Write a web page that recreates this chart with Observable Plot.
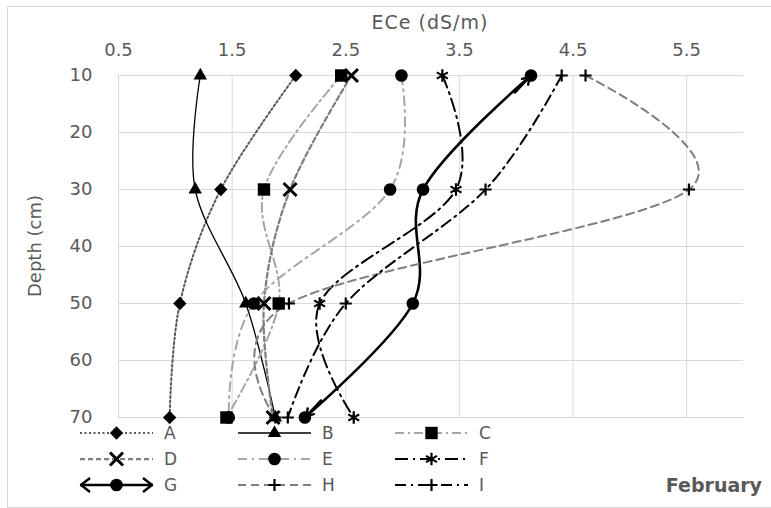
<!DOCTYPE html>
<html><head><meta charset="utf-8">
<script src="https://cdn.jsdelivr.net/npm/d3@7"></script>
<script src="https://cdn.jsdelivr.net/npm/@observablehq/plot@0.6"></script>
<style>
html,body{margin:0;padding:0;background:#fff;overflow:hidden;}
#wrap{position:relative;width:771px;height:508px;font-family:"DejaVu Sans",sans-serif;color:#595959;overflow:hidden;}
#frame{position:absolute;left:7px;top:6px;width:800px;height:502px;border:1px solid #d9d9d9;box-sizing:border-box;}
#xtitle{position:absolute;left:0;width:860px;top:11px;line-height:22px;text-align:center;font-size:19px;letter-spacing:1px;}
#ytitle{position:absolute;left:35px;top:246px;transform:translate(-50%,-50%) rotate(-90deg);white-space:nowrap;font-size:18px;line-height:20px;}
#chart{position:absolute;left:0;top:0;}
#legend{position:absolute;left:0;top:418px;}
</style>
</head><body>
<div id="wrap">
  <div id="frame"></div>
  <div id="chart"></div>
  <div id="legend"></div>
  <div id="xtitle">ECe (dS/m)</div>
  <div id="ytitle">Depth (cm)</div>
</div>
<script>
// ---- data ----
const depths = [10, 30, 50, 70];
const seriesNames = ["A", "B", "C", "D", "E", "F", "G", "H", "I"];
const A = [2.06, 1.40, 1.04, 0.95];
const B = [1.22, 1.175, 1.62, 1.88];
const C = [2.46, 1.78, 1.91, 1.45];
const D = [2.55, 2.01, 1.78, 1.86];
const E = [2.99, 2.89, 1.69, 1.47];
const F = [3.35, 3.47, 2.27, 2.57];
const G = [4.13, 3.18, 3.09, 2.14];
const H = [4.61, 5.52, 2.00, 1.88];
const I = [4.40, 3.73, 2.50, 1.99];
const xTicks = [0.5, 1.5, 2.5, 3.5, 4.5, 5.5];
const yTicks = [10, 20, 30, 40, 50, 60, 70];
const xLabel = "ECe (dS/m)";
const yLabel = "Depth (cm)";
const caption = "February";

// ---- styles ----
const values = {A, B, C, D, E, F, G, H, I};
const styles = {
  A: {stroke: "#595959", width: 2, dash: "2,2.5", symbol: "diamond2", d3sym: d3.symbolDiamond2, r: 6, fill: "black"},
  B: {stroke: "black", width: 1.3, dash: null, symbol: "triangle", d3sym: d3.symbolTriangle, r: 5, fill: "black"},
  C: {stroke: "#a6a6a6", width: 2, dash: "9,4,2,4", symbol: "square", d3sym: d3.symbolSquare, r: 7, fill: "black"},
  D: {stroke: "#7f7f7f", width: 2.25, dash: "5,3", symbol: "times", d3sym: d3.symbolTimes, r: 6, fill: null, sw: 3},
  E: {stroke: "#a6a6a6", width: 2, dash: "9,5,2,5", symbol: "circle", d3sym: d3.symbolCircle, r: 6.3, fill: "black"},
  F: {stroke: "black", width: 2, dash: "13,5,2,5", symbol: "asterisk", d3sym: d3.symbolAsterisk, r: 6, fill: null, sw: 2.2},
  G: {stroke: "black", width: 2.6, dash: null, symbol: "circle", d3sym: d3.symbolCircle, r: 6.3, fill: "black", arrows: true},
  H: {stroke: "#7f7f7f", width: 2, dash: "8,5", symbol: "plus", d3sym: d3.symbolPlus, r: 4, fill: null, sw: 2.2},
  I: {stroke: "black", width: 2, dash: "11,5,2,5", symbol: "plus", d3sym: d3.symbolPlus, r: 4, fill: null, sw: 2.2}
};

const rowsOf = name => depths.map((d, i) => ({series: name, depth: d, ece: values[name][i]}));

// arrowheads for G at both ends, pointing outward along the line's end tangents
const last = depths.length - 1;
const gArrows = [
  {x1: G[0] + 0.15 * (G[1] - G[0]), y1: depths[0] + 0.15 * (depths[1] - depths[0]), x2: G[0], y2: depths[0]},
  {x1: G[last] + 0.15 * (G[last - 1] - G[last]), y1: depths[last] + 0.15 * (depths[last - 1] - depths[last]), x2: G[last], y2: depths[last]}
];

const marks = [
  Plot.ruleX(xTicks, {stroke: "#d9d9d9", strokeWidth: 1}),
  Plot.ruleY(yTicks, {stroke: "#d9d9d9", strokeWidth: 1})
];
for (const n of seriesNames) {
  const s = styles[n];
  marks.push(Plot.line(rowsOf(n), {
    x: "ece", y: "depth", curve: "cardinal", stroke: s.stroke, strokeWidth: s.width,
    strokeDasharray: s.dash || undefined
  }));
}
marks.push(Plot.arrow(gArrows, {x1: "x1", y1: "y1", x2: "x2", y2: "y2", stroke: "black", strokeWidth: 2.4,
  headLength: 20, headAngle: 65, insetEnd: 2}));
for (const n of seriesNames) {
  const s = styles[n];
  marks.push(Plot.dot(rowsOf(n), s.fill ? {
    x: "ece", y: "depth", symbol: s.symbol, r: s.r, fill: s.fill, stroke: "none"
  } : {
    x: "ece", y: "depth", symbol: s.symbol, r: s.r, fill: "none", stroke: "black", strokeWidth: s.sw
  }));
}

const chart = Plot.plot({
  width: 771, height: 430,
  marginTop: 75, marginBottom: 13, marginLeft: 118, marginRight: 28,
  style: {fontFamily: "DejaVu Sans", fontSize: "18px", color: "#595959", background: "transparent", overflow: "visible"},
  x: {domain: [0.5, 6.0], axis: "top", ticks: xTicks, tickFormat: d => d.toFixed(1), tickSize: 0, tickPadding: 20, label: null},
  y: {domain: [10, 70], reverse: true, ticks: yTicks, tickSize: 0, tickPadding: 26, label: null},
  marks
});
document.getElementById("chart").appendChild(chart);

// ---- legend ----
const lsvg = d3.select("#legend").append("svg").attr("width", 771).attr("height", 90)
  .style("font-family", "DejaVu Sans").style("font-size", "17px");
const colX = [80, 238, 395];
const rowY = [15, 41, 67];
seriesNames.forEach((n, i) => {
  const s = styles[n];
  const x0 = colX[i % 3], y0 = rowY[Math.floor(i / 3)];
  const len = 73, cx = x0 + len / 2;
  const g = lsvg.append("g");
  g.append("line").attr("x1", x0).attr("x2", x0 + len).attr("y1", y0).attr("y2", y0)
    .attr("stroke", s.stroke).attr("stroke-width", s.width).attr("stroke-dasharray", s.dash);
  if (s.arrows) {
    g.append("path").attr("d", `M${x0 + 10},${y0 - 7}L${x0 + 1},${y0}L${x0 + 10},${y0 + 7}M${x0 + len - 10},${y0 - 7}L${x0 + len - 1},${y0}L${x0 + len - 10},${y0 + 7}`)
      .attr("fill", "none").attr("stroke", "black").attr("stroke-width", 2.4).attr("stroke-linejoin", "round");
  }
  const path = d3.symbol(s.d3sym, Math.PI * s.r * s.r)();
  const m = g.append("path").attr("d", path).attr("transform", `translate(${cx},${y0})`);
  if (s.fill) m.attr("fill", s.fill);
  else m.attr("fill", "none").attr("stroke", "black").attr("stroke-width", s.sw);
  g.append("text").attr("x", x0 + len + 11).attr("y", y0).attr("dy", "0.36em").attr("fill", "#595959").text(n);
});
lsvg.append("text").attr("x", 762).attr("y", rowY[2]).attr("dy", "0.36em").attr("text-anchor", "end")
  .attr("font-weight", "bold").attr("font-size", "19px").attr("fill", "#595959").text(caption);
</script>
</body></html>
